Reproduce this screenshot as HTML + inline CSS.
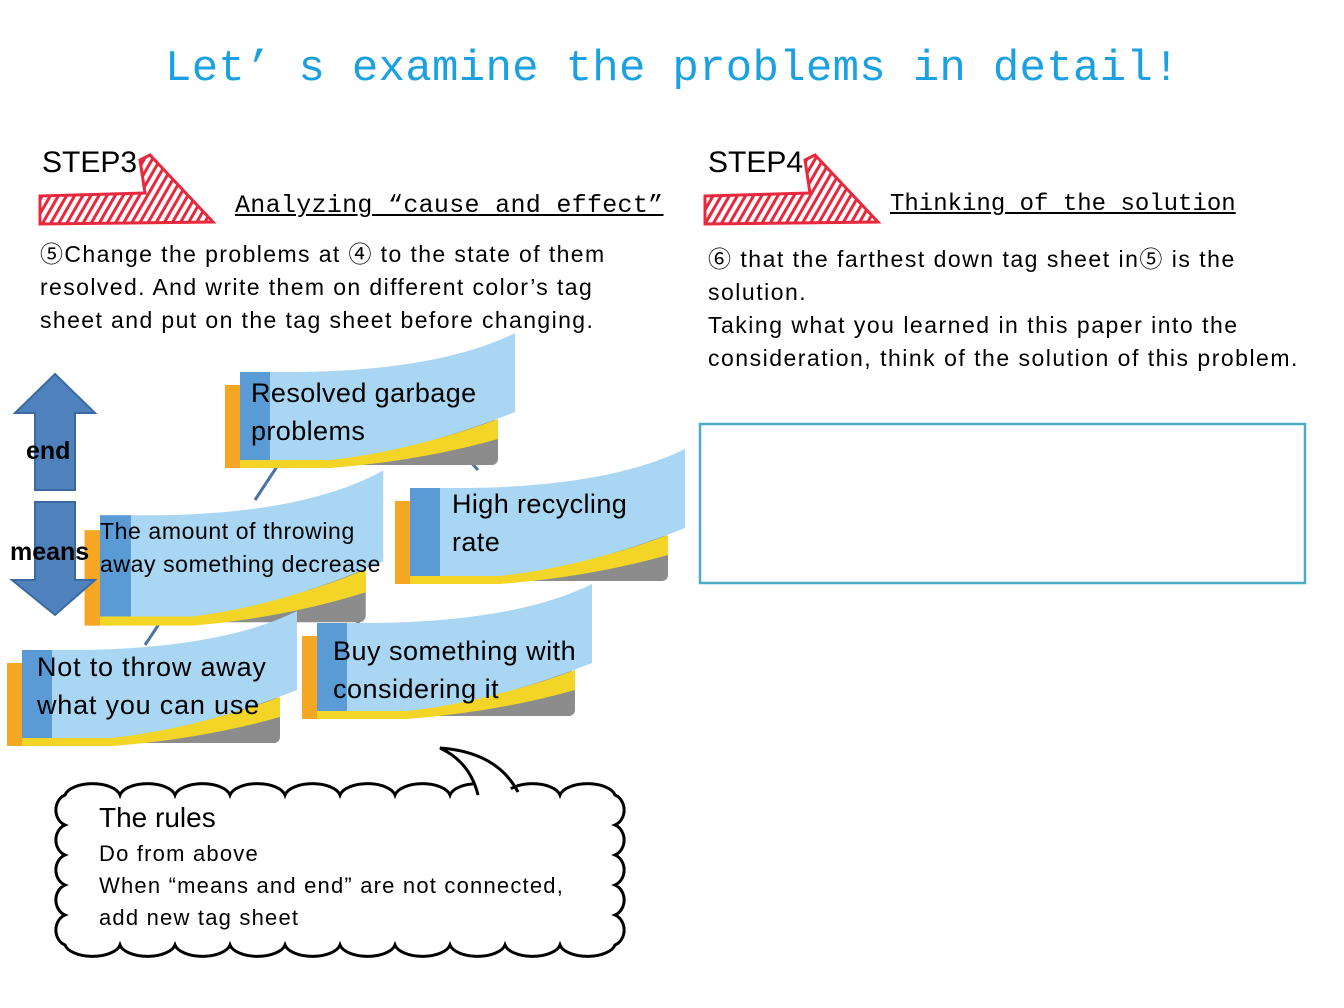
<!DOCTYPE html>
<html><head><meta charset="utf-8"><style>
body{margin:0;width:1344px;height:1008px;background:#fff;position:relative;overflow:hidden;font-family:"Liberation Sans","Noto Sans CJK JP",sans-serif}
.t{position:absolute;white-space:nowrap;color:#000}
</style></head><body>
<svg width="1344" height="1008" style="position:absolute;left:0;top:0">
<defs>
<pattern id="h" width="7" height="7" patternUnits="userSpaceOnUse" patternTransform="rotate(30)"><rect width="7" height="7" fill="#fff"/><rect width="3" height="7" fill="#e8283c"/></pattern>
<g id="note">
<rect x="60" y="62" width="198" height="46" rx="6" fill="#8c8c8c"/>
<rect x="-15" y="28" width="16" height="83" fill="#f5a623"/>
<path d="M0,100 L90,100 Q180,92 258,62 L258,82 Q180,104 90,111 L0,111Z" fill="#f2d526"/>
<path d="M0,15 L60,15 Q200,13 275,-24 L275,55 Q180,93 90,103 L0,103Z" fill="#a9d6f2"/>
<rect x="0" y="15" width="30" height="88" fill="#5b9bd5"/>
</g>
</defs>
<path d="M40,196 L145,193 L140,160 L150,155 L213,222 L40,224Z" fill="url(#h)" stroke="#e8283c" stroke-width="3"/>
<path d="M705,196 L810,193 L805,160 L815,155 L878,222 L705,224Z" fill="url(#h)" stroke="#e8283c" stroke-width="3"/>
<g stroke="#4a74a8" stroke-width="3">
<line x1="278" y1="465" x2="255" y2="500"/><line x1="455" y1="445" x2="478" y2="470"/>
<line x1="340" y1="600" x2="360" y2="625"/><line x1="165" y1="615" x2="145" y2="645"/>
</g>
<use href="#note" transform="translate(240,357)"/>
<use href="#note" transform="translate(100,498) scale(1.03,1.15)"/>
<use href="#note" transform="translate(410,473)"/>
<use href="#note" transform="translate(317,608)"/>
<use href="#note" transform="translate(22,635)"/>
<path d="M55,374 L95,413 L75,413 L75,490 L35,490 L35,413 L15,413Z" fill="#4f81bd" stroke="#3a6aa0" stroke-width="2"/>
<path d="M35,502 L75,502 L75,580 L95,580 L55,615 L12,580 L35,580Z" fill="#4f81bd" stroke="#3a6aa0" stroke-width="2"/>
<rect x="700" y="424" width="605" height="159" fill="#fff" stroke="#4bacc6" stroke-width="2.5"/>
<path d="M65,795 a28,14 0 0 1 55,0 a28,14 0 0 1 55,0 a28,14 0 0 1 55,0 a28,14 0 0 1 55,0 a28,14 0 0 1 55,0 a28,14 0 0 1 55,0 a28,14 0 0 1 55,0 a28,14 0 0 1 55,0 a28,14 0 0 1 55,0 a28,14 0 0 1 55,0 a14,16 0 0 1 0,30 a14,16 0 0 1 0,30 a14,16 0 0 1 0,30 a14,16 0 0 1 0,30 a14,16 0 0 1 0,30 a28,14 0 0 1 -55,0 a28,14 0 0 1 -55,0 a28,14 0 0 1 -55,0 a28,14 0 0 1 -55,0 a28,14 0 0 1 -55,0 a28,14 0 0 1 -55,0 a28,14 0 0 1 -55,0 a28,14 0 0 1 -55,0 a28,14 0 0 1 -55,0 a28,14 0 0 1 -55,0 a14,16 0 0 1 0,-30 a14,16 0 0 1 0,-30 a14,16 0 0 1 0,-30 a14,16 0 0 1 0,-30 a14,16 0 0 1 0,-30Z" fill="#fff" stroke="#000" stroke-width="3"/>
<path d="M478,802 Q470,762 442,749 Q497,755 518,802Z" fill="#fff"/>
<path d="M478,795 Q470,762 440,748 Q497,752 518,792" fill="none" stroke="#000" stroke-width="3"/>
</svg>
<div class="t" style="left:165px;top:44px;font-family:'Liberation Mono',monospace;font-size:44px;color:#1ba1e2;letter-spacing:0.3px">Let’ s examine the problems in detail!</div>
<div class="t" style="left:42px;top:146px;font-size:30px">STEP3</div>
<div class="t" style="left:708px;top:146px;font-size:30px">STEP4</div>
<div class="t" style="left:235px;top:191px;font-family:'Liberation Mono',monospace;font-size:25px;text-decoration:underline;letter-spacing:0.3px">Analyzing “cause and effect”</div>
<div class="t" style="left:890px;top:191px;font-family:'Liberation Mono',monospace;font-size:24px;text-decoration:underline">Thinking of the solution</div>
<div class="t" style="left:40px;top:238px;font-size:23px;line-height:33px;letter-spacing:1.4px">⑤Change the problems at ④ to the state of them<br>resolved. And write them on different color’s tag<br>sheet and put on the tag sheet before changing.</div>
<div class="t" style="left:708px;top:243px;font-size:23px;line-height:33px;letter-spacing:1.5px">⑥ that the farthest down tag sheet in⑤  is the<br>solution.<br>Taking what you learned in this paper into the<br>consideration, think of the solution of this problem.</div>
<div class="t" style="left:251px;top:374px;font-size:27px;line-height:38px;letter-spacing:0.4px">Resolved garbage<br>problems</div>
<div class="t" style="left:100px;top:515px;font-size:23px;line-height:33px;letter-spacing:0.6px">The amount of throwing<br>away something decrease</div>
<div class="t" style="left:452px;top:485px;font-size:27px;line-height:38px;letter-spacing:0.4px">High  recycling<br>rate</div>
<div class="t" style="left:333px;top:632px;font-size:27px;line-height:38px;letter-spacing:0.5px">Buy something with<br>considering it</div>
<div class="t" style="left:37px;top:648px;font-size:27px;line-height:38px;letter-spacing:0.8px">Not to throw away<br>what you can use</div>
<div class="t" style="left:26px;top:437px;font-size:25px;font-weight:bold">end</div>
<div class="t" style="left:10px;top:538px;font-size:25px;font-weight:bold">means</div>
<div class="t" style="left:99px;top:802px;font-size:28px">The rules</div>
<div class="t" style="left:99px;top:838px;font-size:22px;line-height:32px;letter-spacing:1.2px">Do from above<br>When “means and end” are not connected,<br>add new tag sheet</div>
</body></html>
